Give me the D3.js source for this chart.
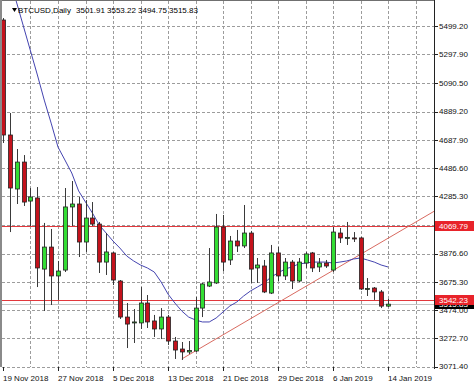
<!DOCTYPE html>
<html>
<head>
<meta charset="utf-8">
<script src="https://cdn.jsdelivr.net/npm/d3@7"></script>
<style>
  body { margin: 0; background: #fff; }
  text { font-family: "Liberation Sans", Arial, sans-serif; font-size: 8px; }
</style>
</head>
<body>
<script>
// BTCUSD daily, 19 Nov 2018 .. 14 Jan 2019
const symbol = "BTCUSD";
const period = "Daily";

const opens = [5542, 4722, 4337, 4529, 4251, 4273, 3766, 3923, 3717, 3759, 4209, 4230, 3959, 4130, 4087, 3816,
  3881, 3681, 3424, 3382, 3382, 3524, 3396, 3339, 3424, 3253, 3196, 3175, 3182, 3488, 3645, 3667, 4066, 3831,
  3966, 3931, 4023, 3774, 3788, 3595, 3881, 3717, 3816, 3681, 3809, 3881, 3781, 3809, 3759, 4023, 3988, 3988,
  3988, 3624, 3631, 3603, 3501.91];
const highs = [5556, 4879, 4622, 4579, 4344, 4351, 4095, 4052, 3824, 4344, 4394, 4280, 4258, 4244, 4102, 4023,
  3888, 3688, 3524, 3481, 3638, 3581, 3439, 3488, 3439, 3282, 3246, 3253, 3567, 3667, 3916, 4159, 4152, 4002,
  4045, 4223, 4038, 3845, 3831, 3938, 3924, 3845, 3831, 3845, 3888, 3888, 3845, 3831, 4066, 4059, 4102, 4030,
  3995, 3702, 3638, 3617, 3553.22];
const lows = [4665, 4030, 4230, 4216, 4073, 3638, 3467, 3510, 3546, 3745, 4073, 3852, 3888, 4073, 3738, 3724,
  3652, 3410, 3203, 3239, 3339, 3346, 3282, 3267, 3225, 3125, 3118, 3160, 3175, 3424, 3638, 3660, 3752, 3795,
  3888, 3916, 3667, 3667, 3595, 3588, 3681, 3688, 3624, 3674, 3774, 3745, 3745, 3774, 3745, 3952, 3938, 3959,
  3617, 3574, 3546, 3488, 3494.75];
const closes = [4722, 4344, 4529, 4244, 4280, 3774, 3923, 3717, 3752, 4209, 4230, 3959, 4130, 4087, 3816, 3888,
  3688, 3424, 3374, 3389, 3524, 3389, 3339, 3424, 3253, 3189, 3175, 3186, 3488, 3660, 3674, 4066, 3816, 3966,
  3931, 4023, 3766, 3795, 3603, 3881, 3717, 3816, 3681, 3816, 3874, 3774, 3809, 3788, 4030, 3988, 3992, 3981,
  3624, 3628, 3603, 3502, 3515.83];
// moving average (blue)
const maValues = [6005, 5834, 5663, 5492, 5321, 5150, 4971, 4807, 4636, 4544, 4451, 4323, 4244, 4166, 4080, 4023,
  3966, 3916, 3859, 3824, 3795, 3774, 3745, 3674, 3588, 3524, 3467, 3424, 3403, 3389, 3389, 3417, 3460, 3503,
  3531, 3574, 3610, 3638, 3667, 3710, 3738, 3766, 3781, 3802, 3809, 3816, 3816, 3816, 3809, 3816, 3824, 3838,
  3845, 3831, 3816, 3795, 3781];

const priceTicks = [3071.40, 3272.70, 3474.00, 3675.30, 3876.60, 4077.90, 4285.30, 4486.60, 4687.90, 4889.20,
  5090.50, 5297.90, 5499.20];
const dateTicks = ["2018-11-19", "2018-11-27", "2018-12-05", "2018-12-13", "2018-12-21", "2018-12-29",
  "2019-01-06", "2019-01-14"];
const levels = [4069.79, 3542.23];
const trendFrom = ["2018-12-15", 3125];
const trendTo = ["2019-01-10", 3871];

const bullColor = "#33dd33";
const bearColor = "#c4121c";
const levelColor = "#e2383c";
const trendColor = "#d86a60";
const gridColor = "#9c9c9c";
const maColor = "#4444b0";

const width = 474, height = 387;
const plotLeft = 2, plotRight = 434, plotTop = 1, plotBottom = 367;

const parse = d3.utcParse("%Y-%m-%d");
const dates = d3.utcDay.range(parse("2018-11-19"), parse("2019-01-15"));
const bars = dates.map((d, i) => ({ date: d, o: opens[i], h: highs[i], l: lows[i], c: closes[i], ma: maValues[i] }));

const x = d3.scaleUtc().domain([dates[0], dates[dates.length - 1]]).range([3, 388]);
const y = d3.scaleLinear().domain([3071.4, 5499.2]).range([366.5, 26]);
const crisp = (v) => Math.round(v) + 0.5;
const fmt = d3.format(".2f");

const svg = d3.select("body").append("svg")
  .attr("width", width)
  .attr("height", height);

svg.append("clipPath").attr("id", "plot")
  .append("rect").attr("x", plotLeft).attr("y", plotTop)
  .attr("width", plotRight - plotLeft).attr("height", plotBottom - plotTop);

// grid
const grid = svg.append("g").attr("stroke", gridColor).attr("stroke-dasharray", "3,2");
grid.selectAll("line.h").data(priceTicks).join("line")
  .attr("class", "h")
  .attr("x1", plotLeft).attr("x2", plotRight)
  .attr("y1", (d) => crisp(y(d))).attr("y2", (d) => crisp(y(d)));
const xMax = x.invert(plotRight);
grid.selectAll("line.v").data(d3.utcDay.range(parse("2018-11-23"), xMax, 4)).join("line")
  .attr("class", "v")
  .attr("x1", (d) => crisp(x(d))).attr("x2", (d) => crisp(x(d)))
  .attr("y1", plotTop).attr("y2", plotBottom);

const plot = svg.append("g").attr("clip-path", "url(#plot)");

// horizontal levels + bid line
plot.selectAll("line.level").data(levels).join("line")
  .attr("class", "level")
  .attr("x1", 0).attr("x2", plotRight)
  .attr("y1", (d) => crisp(y(d))).attr("y2", (d) => crisp(y(d)))
  .attr("stroke", levelColor);
const last = bars[bars.length - 1];
plot.append("line")
  .attr("x1", 0).attr("x2", plotRight)
  .attr("y1", crisp(y(last.c))).attr("y2", crisp(y(last.c)))
  .attr("stroke", "#c4c4c4");

// trend line (ray to the right)
const t0 = [x(parse(trendFrom[0])), y(trendFrom[1])];
const t1 = [x(parse(trendTo[0])), y(trendTo[1])];
const slope = (t1[1] - t0[1]) / (t1[0] - t0[0]);
plot.append("line")
  .attr("x1", t0[0]).attr("y1", t0[1])
  .attr("x2", plotRight).attr("y2", t0[1] + slope * (plotRight - t0[0]))
  .attr("stroke", trendColor);

// moving average
plot.append("path")
  .datum(bars)
  .attr("fill", "none")
  .attr("stroke", maColor)
  .attr("d", d3.line().x((d) => x(d.date)).y((d) => y(d.ma)));

// candles
const candle = plot.selectAll("g.candle").data(bars).join("g").attr("class", "candle");
candle.append("line")
  .attr("x1", (d) => crisp(x(d.date))).attr("x2", (d) => crisp(x(d.date)))
  .attr("y1", (d) => y(d.h)).attr("y2", (d) => y(d.l))
  .attr("stroke", "#3a3a3a");
candle.append("rect")
  .attr("x", (d) => Math.round(x(d.date)) - 1.5)
  .attr("width", 4)
  .attr("y", (d) => y(Math.max(d.o, d.c)))
  .attr("height", (d) => Math.max(1, Math.abs(y(d.o) - y(d.c))))
  .attr("fill", (d) => (d.c >= d.o ? bullColor : bearColor))
  .attr("stroke", "#222")
  .attr("stroke-width", 0.8);

// frame
svg.append("line").attr("x1", 0).attr("x2", plotRight).attr("y1", 0.5).attr("y2", 0.5).attr("stroke", "#707070");
svg.append("line").attr("x1", 1).attr("x2", 1).attr("y1", 0).attr("y2", plotBottom)
  .attr("stroke", "#8a8a8a").attr("stroke-width", 2);
svg.append("line").attr("x1", plotRight + 0.5).attr("x2", plotRight + 0.5).attr("y1", 0).attr("y2", plotBottom + 2)
  .attr("stroke", "#222");

// price axis
const pAxis = svg.append("g");
pAxis.selectAll("line").data(priceTicks).join("line")
  .attr("x1", plotRight).attr("x2", plotRight + 4)
  .attr("y1", (d) => crisp(y(d))).attr("y2", (d) => crisp(y(d)))
  .attr("stroke", "#222");
pAxis.selectAll("text").data(priceTicks).join("text")
  .attr("x", plotRight + 5)
  .attr("y", (d) => y(d))
  .attr("dy", "0.35em")
  .attr("fill", "#111")
  .text(fmt);

function priceTag(value, fill) {
  const g = svg.append("g");
  g.append("rect")
    .attr("x", plotRight + 1).attr("y", Math.round(y(value)) - 5)
    .attr("width", width - plotRight - 1).attr("height", 10)
    .attr("fill", fill);
  g.append("text")
    .attr("x", plotRight + 5).attr("y", y(value)).attr("dy", "0.35em")
    .attr("fill", "#fff")
    .text(fmt(value));
}
priceTag(last.c, "#000");
levels.forEach((v) => priceTag(v, "#e8232a"));

// date axis
const dAxis = svg.append("g");
const dFmt = d3.utcFormat("%-d %b %Y");
dAxis.selectAll("line").data(dateTicks.map(parse)).join("line")
  .attr("x1", (d) => crisp(x(d))).attr("x2", (d) => crisp(x(d)))
  .attr("y1", plotBottom).attr("y2", plotBottom + 4)
  .attr("stroke", "#222");
dAxis.selectAll("text").data(dateTicks.map(parse)).join("text")
  .attr("x", (d) => Math.round(x(d)))
  .attr("y", 381)
  .attr("fill", "#111")
  .text(dFmt);

// title: symbol + OHLC of the last bar
svg.append("path").attr("d", "M12,8L17,8L14.5,12Z").attr("fill", "#000");
svg.append("text").attr("x", 18).attr("y", 13).attr("fill", "#000").text(`${symbol},${period}`);
svg.append("g").selectAll("text").data([last.o, last.h, last.l, last.c]).join("text")
  .attr("x", (d, i) => 76 + i * 31)
  .attr("y", 13)
  .attr("fill", "#000")
  .text(fmt);
</script>
</body>
</html>
